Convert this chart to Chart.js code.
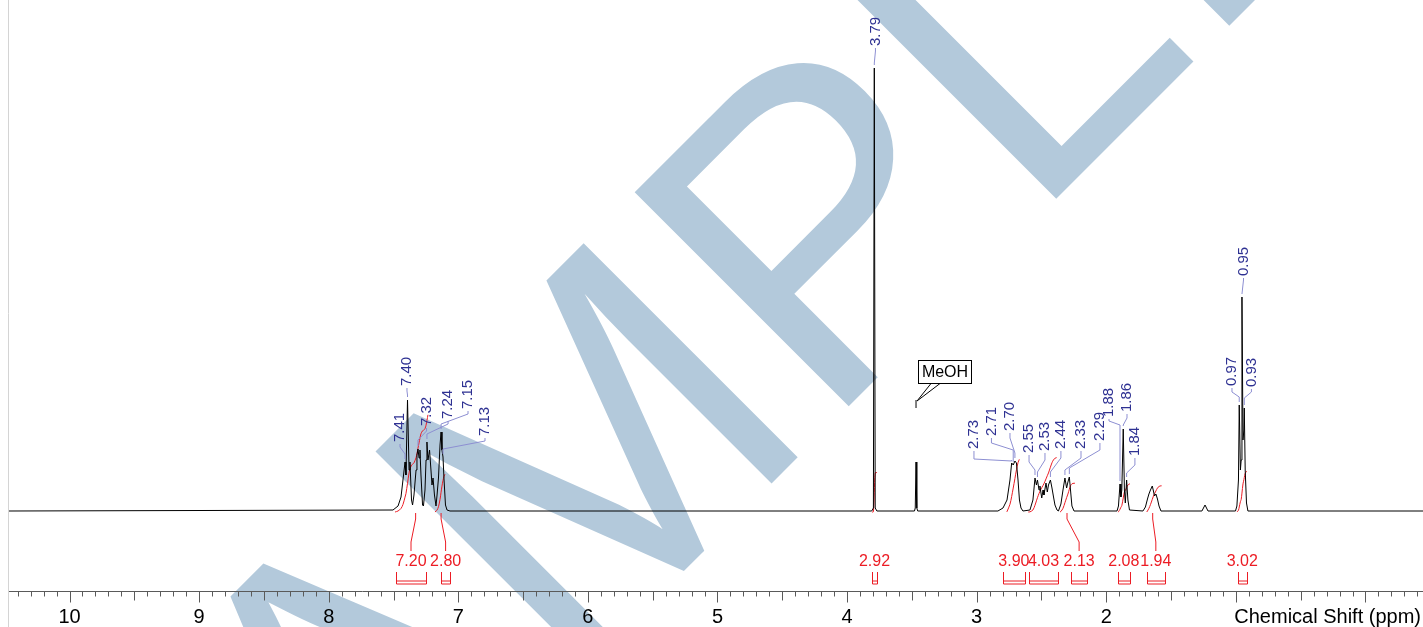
<!DOCTYPE html>
<html>
<head>
<meta charset="utf-8">
<script src="https://cdn.jsdelivr.net/npm/chart.js@4.4.1/dist/chart.umd.min.js"></script>
<style>
html, body { margin: 0; padding: 0; background: #fff; }
#wrap { width: 1423px; height: 627px; }
</style>
</head>
<body>
<div id="wrap"><canvas id="nmr-chart" width="1423" height="627"></canvas></div>
<script>
// spectrum trace: chemical shift (ppm) and height above baseline
const shift = [10.47,
    7.504, 7.465, 7.442, 7.427, 7.411, 7.404, 7.392, 7.380, 7.373, 7.361,
    7.353, 7.342, 7.326, 7.319, 7.311, 7.303, 7.296, 7.288, 7.276, 7.269,
    7.257, 7.249, 7.242, 7.234, 7.222, 7.211, 7.203, 7.195, 7.184, 7.172,
    7.164, 7.153, 7.141, 7.133, 7.126, 7.118, 7.110, 7.099, 7.087, 7.064,
    3.81, 3.797, 3.790, 3.783, 3.77,
    3.48, 3.474, 3.468, 3.462, 3.455,
    2.836, 2.797, 2.766, 2.743, 2.730, 2.718, 2.705, 2.693, 2.681, 2.670, 2.658, 2.643,
    2.589, 2.566, 2.550, 2.539, 2.531, 2.519, 2.512, 2.498, 2.488, 2.481, 2.465, 2.455, 2.446, 2.431, 2.419, 2.407, 2.396, 2.380,
    2.369, 2.350, 2.334, 2.319, 2.306, 2.296, 2.285, 2.276, 2.265, 2.249,
    1.917, 1.906, 1.894, 1.887, 1.880, 1.869, 1.860, 1.853, 1.843, 1.833, 1.821,
    1.717, 1.698, 1.682, 1.671, 1.659, 1.645, 1.636, 1.628, 1.617, 1.605, 1.593, 1.578,
    1.262, 1.238, 1.215,
    1.003, 0.992, 0.980, 0.974, 0.965, 0.959, 0.953, 0.945, 0.938, 0.935, 0.928, 0.918, 0.907,
    -0.45];
const intensity = [0,
    1, 5, 14, 31, 49, 36, 111, 41, 49, 11,
    6, 16, 41, 56, 62, 53, 61, 36, 6, 5,
    21, 51, 69, 51, 61, 41, 26, 33, 16, 5,
    16, 33, 66, 79, 61, 54, 31, 6, 1, 0,
    0, 3, 443, 3, 0,
    0, 3, 49, 3, 0,
    0, 3, 11, 31, 48, 46, 50, 48, 31, 11, 3, 0,
    1, 11, 33, 26, 31, 21, 25, 13, 21, 16, 28, 19, 26, 31, 23, 14, 6, 1,
    0, 7, 21, 33, 23, 29, 34, 21, 5, 0,
    0, 5, 27, 14, 21, 82, 21, 8, 31, 11, 1,
    0, 4, 12, 17, 21, 25, 20, 15, 17, 12, 5, 0,
    0, 6, 0,
    0, 5, 31, 106, 41, 51, 214, 71, 81, 103, 41, 8, 0,
    0];

// picked peaks
const peakText = ['7.41', '7.40', '7.32', '7.24', '7.15', '7.13', '3.79', '2.73', '2.71', '2.70', '2.55',
    '2.53', '2.44', '2.33', '2.29', '1.88', '1.86', '1.84', '0.97', '0.95', '0.93'];
const peakAt = [7.411, 7.392, 7.311, 7.242, 7.133, 7.118, 3.790, 2.730, 2.718, 2.705, 2.550,
    2.531, 2.431, 2.319, 2.285, 1.894, 1.869, 1.843, 0.974, 0.953, 0.935];
// where each peak label sits (ppm) and the levels of its leader line
const labelAt = [7.450, 7.396, 7.245, 7.079, 6.925, 6.794, 3.781, 3.021, 2.886, 2.743, 2.596,
    2.473, 2.350, 2.195, 2.049, 1.979, 1.840, 1.779, 1.030, 0.941, 0.880];
const knee1 = [57, 116, 71, 77, 87, 62, 448, 50, 61, 58, 41, 39, 39, 41, 43, 86, 86, 38, 114, 217, 113];
const knee2 = [64, 120, 80, 87, 97, 70, 460, 52, 68, 73, 49, 51, 53, 53, 61, 90, 93, 46, 119, 231, 119];
const labelBase = [68, 124, 84, 91, 101, 74, 464, 61, 74, 79, 57, 59, 61, 61, 69, 93, 98, 54, 124, 234, 123];

// integrals
const integralValue = [7.20, 2.80, 2.92, 3.90, 4.03, 2.13, 2.08, 1.94, 3.02];
const curveFrom = [7.488, 7.180, 3.808, 2.769, 2.602, 2.357, 1.910, 1.688, 0.992];
const curveTo = [7.234, 7.103, 3.769, 2.671, 2.383, 2.242, 1.817, 1.573, 0.914];
const bracketFrom = [7.481, 7.133, 3.810, 2.799, 2.596, 2.272, 1.912, 1.688, 0.984];
const bracketTo = [7.249, 7.063, 3.767, 2.627, 2.373, 2.147, 1.817, 1.547, 0.917];
const hasLeader = [true, true, false, false, false, true, false, true, false];

const tickValues = [10, 9, 8, 7, 6, 5, 4, 3, 2];
const tickLabels = ['10', '9', '8', '7', '6', '5', '4', '3', '2'];

const FONT = '"Liberation Sans", Arial, sans-serif';
const RED = '#ec1c24';
const NAVY = '#2e3192';
const LEADER = '#8d8fd2';
const INTEGRAL_SCALE = 13.5;

function valueAt(x) {
    for (let i = 1; i < shift.length; i++) {
        if (shift[i] <= x) {
            const t = (shift[i - 1] - x) / (shift[i - 1] - shift[i]);
            return intensity[i - 1] + t * (intensity[i] - intensity[i - 1]);
        }
    }
    return 0;
}

function integralCurve(from, to, total) {
    const pts = [{x: from, y: valueAt(from)}];
    shift.forEach((s, i) => { if (s < from && s > to) pts.push({x: s, y: intensity[i]}); });
    pts.push({x: to, y: valueAt(to)});
    let acc = 0;
    const cum = [0];
    for (let i = 1; i < pts.length; i++) {
        acc += (pts[i - 1].x - pts[i].x) * (pts[i - 1].y + pts[i].y) / 2;
        cum.push(acc);
    }
    return pts.map((p, i) => ({x: p.x, y: -1 + total * cum[i] / acc}));
}

function centroid(from, to) {
    let s1 = 0, s0 = 0;
    shift.forEach((s, i) => { if (s <= from && s >= to) { s1 += s * intensity[i]; s0 += intensity[i]; } });
    return s0 ? s1 / s0 : (from + to) / 2;
}

const datasets = [{
    data: shift.map((s, i) => ({x: s, y: intensity[i]})),
    borderColor: '#000',
    borderWidth: 1,
    pointRadius: 0,
    tension: 0
}];
integralValue.forEach((v, i) => {
    datasets.push({
        data: integralCurve(curveFrom[i], curveTo[i], v * INTEGRAL_SCALE),
        borderColor: RED,
        borderWidth: 1,
        pointRadius: 0,
        tension: 0.3
    });
});

const watermark = {
    id: 'watermark',
    beforeDatasetsDraw(chart) {
        const ctx = chart.ctx;
        ctx.save();
        ctx.translate(149, 1106);
        ctx.rotate(-45 * Math.PI / 180);
        ctx.fillStyle = '#b3c9db';
        ctx.font = '440px ' + FONT;
        ctx.textBaseline = 'alphabetic';
        ctx.fillText('SAMPLE', 0, 0);
        ctx.restore();
    }
};

const annotations = {
    id: 'annotations',
    afterDatasetsDraw(chart) {
        const ctx = chart.ctx;
        const xs = chart.scales.x, ys = chart.scales.y;
        const X = v => xs.getPixelForValue(v);
        const Y = v => ys.getPixelForValue(v);
        const area = chart.chartArea;
        ctx.save();

        // left frame line
        ctx.strokeStyle = '#d4d4d4';
        ctx.lineWidth = 1;
        ctx.beginPath();
        ctx.moveTo(8.5, 0);
        ctx.lineTo(8.5, chart.height);
        ctx.stroke();

        // ppm axis
        const axisY = Math.round(area.bottom) + 0.5;
        ctx.strokeStyle = '#5a5a5a';
        ctx.beginPath();
        ctx.moveTo(area.left, axisY);
        ctx.lineTo(area.right, axisY);
        for (let k = Math.ceil(xs.min * 10); k <= Math.floor(xs.max * 10); k++) {
            const px = Math.round(X(k / 10)) + 0.5;
            const len = k % 10 === 0 ? 11 : (k % 5 === 0 ? 9 : 5);
            ctx.moveTo(px, axisY);
            ctx.lineTo(px, axisY + len);
        }
        ctx.stroke();
        ctx.fillStyle = '#000';
        ctx.font = '20px ' + FONT;
        ctx.textAlign = 'center';
        ctx.textBaseline = 'alphabetic';
        tickValues.forEach((v, i) => ctx.fillText(tickLabels[i], X(v), 623));
        ctx.textAlign = 'right';
        ctx.fillText('Chemical Shift (ppm)', 1421, 623);

        // peak labels
        ctx.lineWidth = 1;
        peakText.forEach((t, i) => {
            const top = intensity[shift.indexOf(peakAt[i])];
            ctx.strokeStyle = LEADER;
            ctx.beginPath();
            ctx.moveTo(X(peakAt[i]), Y(top + 3));
            ctx.lineTo(X(peakAt[i]), Y(knee1[i]));
            ctx.lineTo(X(labelAt[i]), Y(knee2[i]));
            ctx.lineTo(X(labelAt[i]), Y(labelBase[i] - 1));
            ctx.stroke();
            ctx.save();
            ctx.translate(X(labelAt[i]), Y(labelBase[i] + 1));
            ctx.rotate(-Math.PI / 2);
            ctx.fillStyle = NAVY;
            ctx.font = '15px ' + FONT;
            ctx.textAlign = 'left';
            ctx.textBaseline = 'middle';
            ctx.fillText(t, 0, 0);
            ctx.restore();
        });

        // MeOH callout
        ctx.strokeStyle = '#000';
        ctx.fillStyle = '#fff';
        ctx.fillRect(918.5, 360.5, 53, 23);
        ctx.strokeRect(918.5, 360.5, 53, 23);
        ctx.beginPath();
        ctx.moveTo(931, 383.5);
        ctx.lineTo(X(3.468) + 1, Y(110));
        ctx.lineTo(940, 383.5);
        ctx.moveTo(X(3.468), Y(111));
        ctx.lineTo(X(3.468), Y(103));
        ctx.stroke();
        ctx.fillStyle = '#000';
        ctx.font = '16px ' + FONT;
        ctx.textAlign = 'center';
        ctx.textBaseline = 'middle';
        ctx.fillText('MeOH', 945, 372.5);

        // integral labels, brackets and leaders
        ctx.strokeStyle = RED;
        ctx.fillStyle = RED;
        ctx.font = '16px ' + FONT;
        integralValue.forEach((v, i) => {
            const mid = (bracketFrom[i] + bracketTo[i]) / 2;
            ctx.fillText(v.toFixed(2), X(mid), Y(-50.5));
            const a = Math.round(X(bracketFrom[i])) + 0.5, b = Math.round(X(bracketTo[i])) + 0.5;
            ctx.beginPath();
            ctx.moveTo(a, Y(-61));
            ctx.lineTo(a, Y(-73));
            ctx.lineTo(b, Y(-73));
            ctx.lineTo(b, Y(-61));
            ctx.moveTo(a, Y(-70));
            ctx.lineTo(b, Y(-70));
            if (hasLeader[i]) {
                const c = centroid(curveFrom[i], curveTo[i]);
                ctx.moveTo(X(c), Y(-2));
                ctx.lineTo(X(c), Y(-8));
                ctx.lineTo(X(mid), Y(-31));
                ctx.lineTo(X(mid), Y(-40));
            }
            ctx.stroke();
        });
        ctx.restore();
    }
};

new Chart(document.getElementById('nmr-chart'), {
    type: 'line',
    data: { datasets: datasets },
    options: {
        responsive: false,
        devicePixelRatio: 1,
        animation: false,
        parsing: true,
        layout: { padding: { left: 9, right: 0, top: 0, bottom: 36 } },
        scales: {
            x: { type: 'linear', reverse: true, min: -0.444, max: 10.467, display: false },
            y: { type: 'linear', min: -80, max: 511, display: false }
        },
        plugins: {
            legend: { display: false },
            tooltip: { enabled: false }
        }
    },
    plugins: [watermark, annotations]
});
</script>
</body>
</html>
